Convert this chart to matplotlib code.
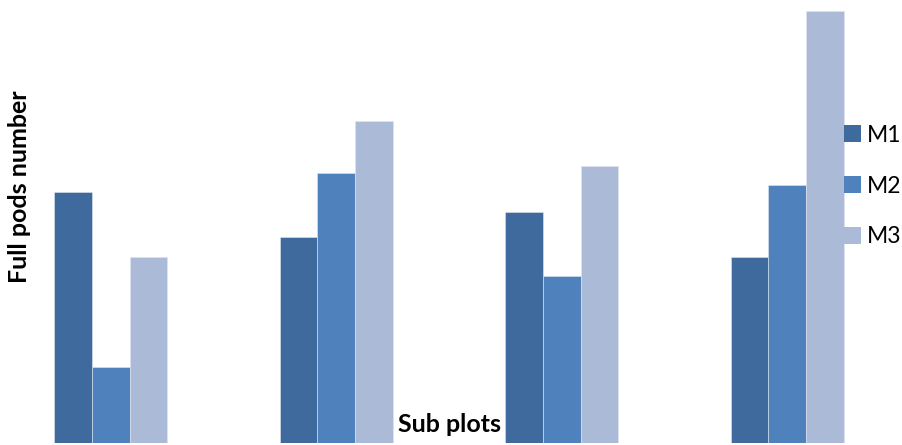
import numpy as np
import matplotlib.pyplot as plt

# values (arbitrary units, no axis scale shown)
groups = ['1', '2', '3', '4']
m1 = [251, 206, 231, 186]
m2 = [76, 270, 167, 258]
m3 = [186, 322, 277, 432]
series_names = ['M1', 'M2', 'M3']
colors = ['#3F6A9E', '#4F81BD', '#AABAD7']

def main():
    fig = plt.figure(figsize=(9.02, 4.45), dpi=100)
    ax = fig.add_axes([-2 / 902, 2 / 445, 1.0, 443 / 445])

    x = np.arange(len(groups))
    w = 1 / 6
    for i, (vals, name, c) in enumerate(zip([m1, m2, m3], series_names, colors)):
        ax.bar(x + (i - 1) * w, vals, width=w, color=c, label=name,
               edgecolor='#dfe6f0', linewidth=0.4)

    ax.set_xlim(-0.5, 3.5)
    ax.set_ylim(0, 443)
    ax.axis('off')

    fig.text(20 / 902, 1 - 187 / 445, 'Full pods number', rotation=90,
             ha='center', va='center', fontsize=18, fontweight='bold',
             family='Lato')
    fig.text(450 / 902, 1 - 425 / 445, 'Sub plots', ha='center', va='center',
             fontsize=18, fontweight='bold', family='Lato')

    leg = ax.legend(loc='center left', bbox_to_anchor=(844 / 902, 1 - 186 / 445),
                    bbox_transform=fig.transFigure, frameon=False,
                    borderaxespad=0, borderpad=0,
                    handlelength=0.75, handleheight=0.75, handletextpad=0.25,
                    labelspacing=1.3, prop={'family': 'Lato', 'size': 16.5})
    for h in leg.legend_handles:
        h.set_edgecolor('none')

    fig.savefig('out.png', dpi=100)


if __name__ == '__main__':
    main()
